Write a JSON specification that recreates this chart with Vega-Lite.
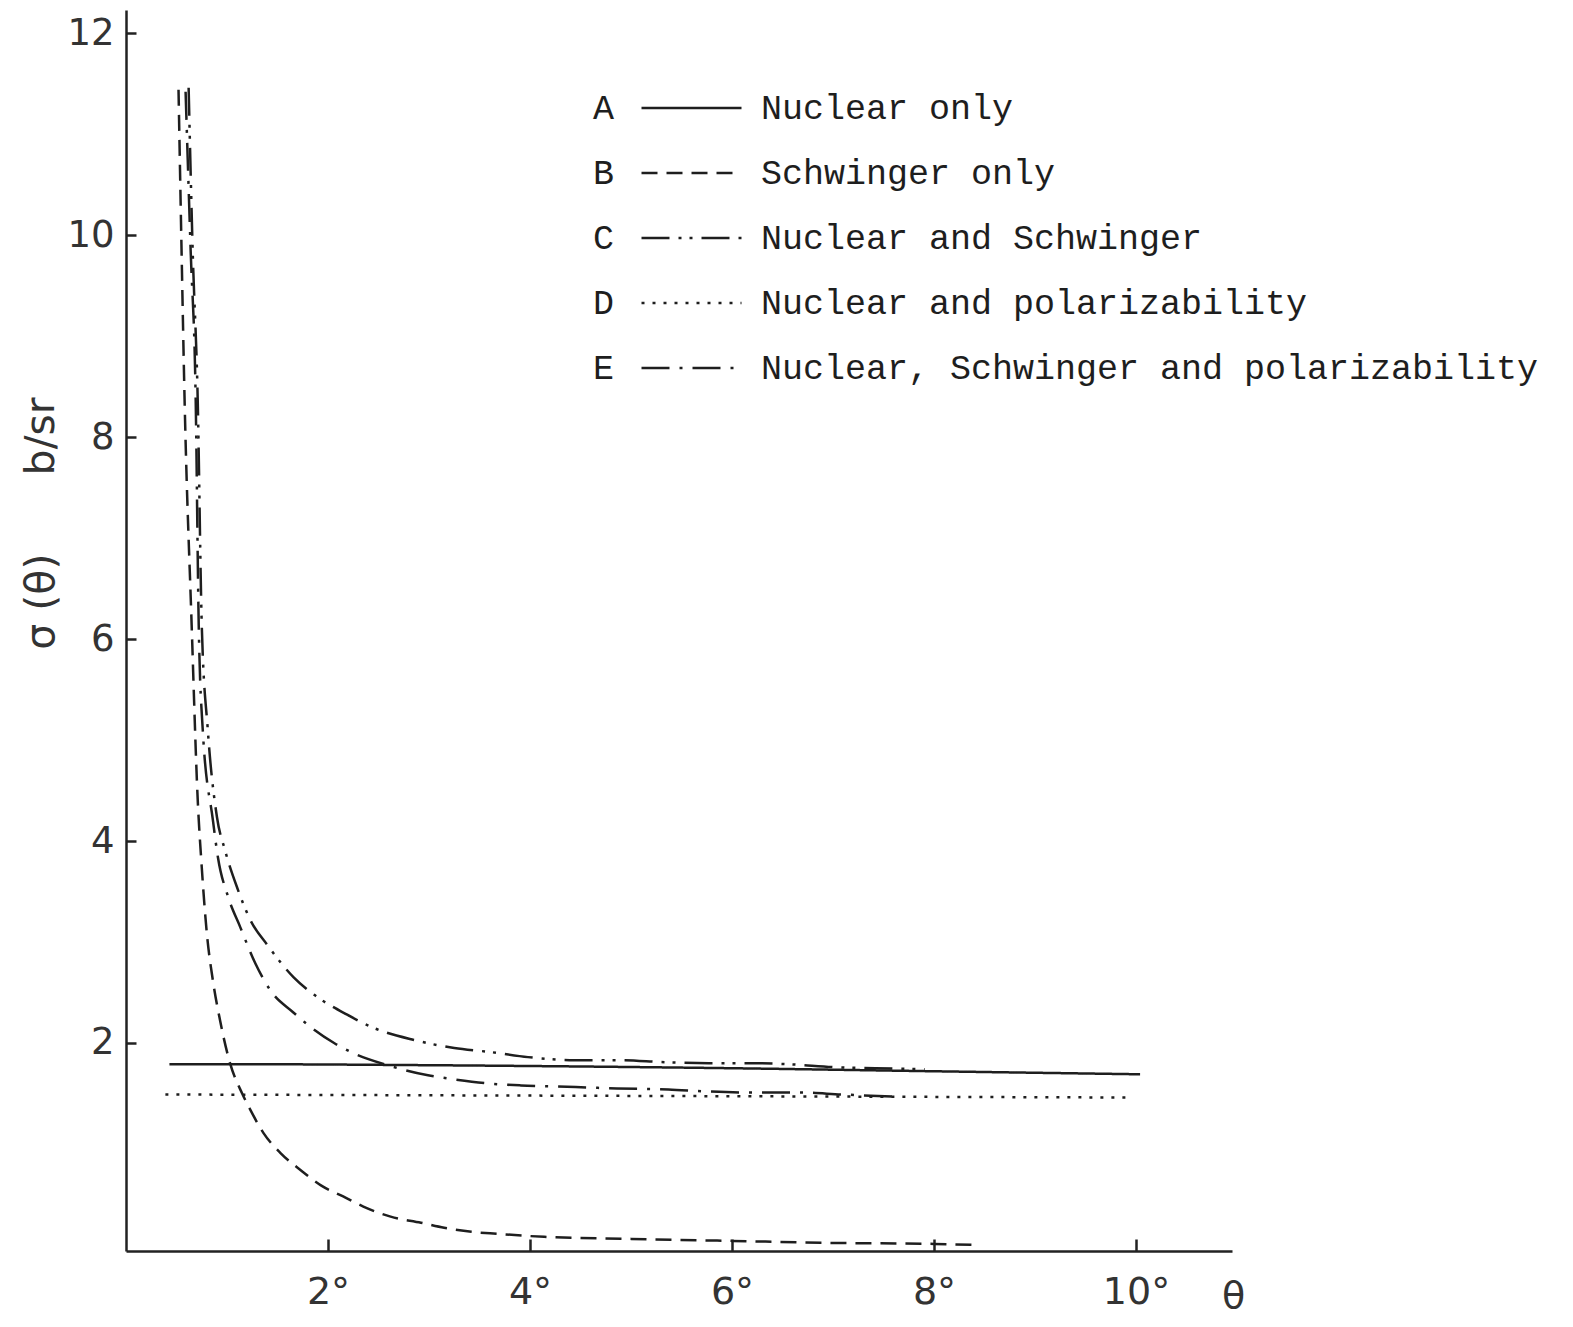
{
  "$schema": "https://vega.github.io/schema/vega-lite/v6.json",
  "width": 1106,
  "height": 1241,
  "autosize": {"type": "none"},
  "padding": {"left": 126, "top": 10, "right": 341, "bottom": 76},
  "background": "white",
  "config": {"view": {"stroke": null}, "line": {"color": "#1e1e1e"}},
  "datasets": {
    "names": [
      {"letter": "A", "name": "Nuclear only"},
      {"letter": "B", "name": "Schwinger only"},
      {"letter": "C", "name": "Nuclear and Schwinger"},
      {"letter": "D", "name": "Nuclear and polarizability"},
      {"letter": "E", "name": "Nuclear, Schwinger and polarizability"}
    ],
    "curves": [
      {"letter": "A", "t": 0.43, "v": 1.79},
      {"letter": "A", "t": 1.05, "v": 1.79},
      {"letter": "A", "t": 3.0, "v": 1.78},
      {"letter": "A", "t": 6.0, "v": 1.75},
      {"letter": "A", "t": 8.0, "v": 1.72},
      {"letter": "A", "t": 10.04, "v": 1.69},
      {"letter": "D", "t": 0.39, "v": 1.49},
      {"letter": "D", "t": 3.7, "v": 1.48},
      {"letter": "D", "t": 9.95, "v": 1.46},
      {"letter": "B", "t": 0.52, "v": 11.44},
      {"letter": "B", "t": 0.55, "v": 9.85},
      {"letter": "B", "t": 0.58, "v": 8.37},
      {"letter": "B", "t": 0.65, "v": 6.14},
      {"letter": "B", "t": 0.71, "v": 4.41},
      {"letter": "B", "t": 0.75, "v": 3.74},
      {"letter": "B", "t": 0.8, "v": 3.09},
      {"letter": "B", "t": 0.86, "v": 2.62},
      {"letter": "B", "t": 0.93, "v": 2.23},
      {"letter": "B", "t": 1.03, "v": 1.8},
      {"letter": "B", "t": 1.15, "v": 1.5},
      {"letter": "B", "t": 1.23, "v": 1.34},
      {"letter": "B", "t": 1.36, "v": 1.11},
      {"letter": "B", "t": 1.53, "v": 0.91},
      {"letter": "B", "t": 1.73, "v": 0.74},
      {"letter": "B", "t": 1.93, "v": 0.59},
      {"letter": "B", "t": 2.15, "v": 0.48},
      {"letter": "B", "t": 2.35, "v": 0.38},
      {"letter": "B", "t": 2.62, "v": 0.28},
      {"letter": "B", "t": 2.92, "v": 0.22},
      {"letter": "B", "t": 3.15, "v": 0.17},
      {"letter": "B", "t": 3.42, "v": 0.13},
      {"letter": "B", "t": 3.68, "v": 0.11},
      {"letter": "B", "t": 4.14, "v": 0.08},
      {"letter": "B", "t": 5.0, "v": 0.06},
      {"letter": "B", "t": 6.0, "v": 0.04},
      {"letter": "B", "t": 7.0, "v": 0.02},
      {"letter": "B", "t": 8.0, "v": 0.01},
      {"letter": "B", "t": 8.4, "v": 0.0},
      {"letter": "C", "t": 0.62, "v": 11.46},
      {"letter": "C", "t": 0.66, "v": 9.85},
      {"letter": "C", "t": 0.71, "v": 8.37},
      {"letter": "C", "t": 0.75, "v": 6.14},
      {"letter": "C", "t": 0.81, "v": 5.1},
      {"letter": "C", "t": 0.9, "v": 4.24},
      {"letter": "C", "t": 0.98, "v": 3.91},
      {"letter": "C", "t": 1.1, "v": 3.54},
      {"letter": "C", "t": 1.23, "v": 3.22},
      {"letter": "C", "t": 1.4, "v": 2.97},
      {"letter": "C", "t": 1.66, "v": 2.65},
      {"letter": "C", "t": 1.86, "v": 2.48},
      {"letter": "C", "t": 2.19, "v": 2.28},
      {"letter": "C", "t": 2.45, "v": 2.15},
      {"letter": "C", "t": 2.85, "v": 2.03},
      {"letter": "C", "t": 3.25, "v": 1.95},
      {"letter": "C", "t": 3.61, "v": 1.91},
      {"letter": "C", "t": 3.98, "v": 1.86},
      {"letter": "C", "t": 4.44, "v": 1.83},
      {"letter": "C", "t": 4.88, "v": 1.83},
      {"letter": "C", "t": 5.33, "v": 1.81},
      {"letter": "C", "t": 5.77, "v": 1.8},
      {"letter": "C", "t": 6.17, "v": 1.8},
      {"letter": "C", "t": 6.56, "v": 1.79},
      {"letter": "C", "t": 7.02, "v": 1.76},
      {"letter": "C", "t": 7.42, "v": 1.75},
      {"letter": "C", "t": 7.91, "v": 1.74},
      {"letter": "E", "t": 0.59, "v": 11.42},
      {"letter": "E", "t": 0.64, "v": 9.85},
      {"letter": "E", "t": 0.69, "v": 8.37},
      {"letter": "E", "t": 0.72, "v": 6.14},
      {"letter": "E", "t": 0.76, "v": 5.1},
      {"letter": "E", "t": 0.86, "v": 4.21},
      {"letter": "E", "t": 0.91, "v": 3.84},
      {"letter": "E", "t": 1.01, "v": 3.45},
      {"letter": "E", "t": 1.13, "v": 3.15},
      {"letter": "E", "t": 1.28, "v": 2.79},
      {"letter": "E", "t": 1.43, "v": 2.52},
      {"letter": "E", "t": 1.66, "v": 2.3},
      {"letter": "E", "t": 1.8, "v": 2.18},
      {"letter": "E", "t": 2.06, "v": 2.0},
      {"letter": "E", "t": 2.25, "v": 1.9},
      {"letter": "E", "t": 2.59, "v": 1.78},
      {"letter": "E", "t": 2.99, "v": 1.68},
      {"letter": "E", "t": 3.25, "v": 1.64},
      {"letter": "E", "t": 3.58, "v": 1.6},
      {"letter": "E", "t": 3.91, "v": 1.58},
      {"letter": "E", "t": 4.24, "v": 1.57},
      {"letter": "E", "t": 4.86, "v": 1.55},
      {"letter": "E", "t": 5.37, "v": 1.54},
      {"letter": "E", "t": 5.75, "v": 1.52},
      {"letter": "E", "t": 6.17, "v": 1.51},
      {"letter": "E", "t": 6.66, "v": 1.51},
      {"letter": "E", "t": 7.09, "v": 1.49},
      {"letter": "E", "t": 7.59, "v": 1.47}
    ]
  },
  "data": {"name": "curves"},
  "transform": [
    {"lookup": "letter", "from": {"data": {"name": "names"}, "key": "letter", "fields": ["name"]}}
  ],
  "mark": {"type": "line", "interpolate": "monotone", "strokeWidth": 2.5, "strokeCap": "butt", "color": "#1e1e1e"},
  "encoding": {
    "x": {
      "field": "t", "type": "quantitative",
      "scale": {"domain": [0, 10.95], "nice": false, "zero": false},
      "axis": {
        "values": [2, 4, 6, 8, 10],
        "labelExpr": "datum.value + '°'",
        "grid": false,
        "tickSize": -12, "tickWidth": 2.5, "tickColor": "#222",
        "domainColor": "#222", "domainWidth": 2.5,
        "labelFont": "DejaVu Sans", "labelFontSize": 38, "labelColor": "#333",
        "labelPadding": 34, "labelBaseline": "top", "labelFlush": false, "labelDx": 6,
        "title": "θ", "titleX": 1107, "titleY": 45, "titleAlign": "center", "titleBaseline": "middle",
        "titleFont": "DejaVu Sans", "titleFontSize": 38, "titleFontWeight": "normal", "titleColor": "#333"
      }
    },
    "y": {
      "field": "v", "type": "quantitative",
      "scale": {"domain": [-0.06, 12.23], "nice": false, "zero": false},
      "axis": {
        "values": [2, 4, 6, 8, 10, 12],
        "grid": false,
        "tickSize": -10, "tickWidth": 2.5, "tickColor": "#222",
        "domainColor": "#222", "domainWidth": 2.5,
        "labelFont": "DejaVu Sans", "labelFontSize": 37, "labelColor": "#333",
        "labelPadding": 22, "labelBaseline": "middle", "labelFlush": false,
        "title": "σ (θ)\u00a0\u00a0\u00a0\u00a0\u00a0\u00a0b/sr", "titleAngle": -90, "titleX": -85, "titleY": 513,
        "titleAlign": "center", "titleBaseline": "middle",
        "titleFont": "DejaVu Sans", "titleFontSize": 41, "titleFontWeight": "normal", "titleColor": "#333"
      }
    },
    "color": {
      "field": "letter", "type": "nominal",
      "scale": {"domain": ["A", "B", "C", "D", "E"], "range": ["#1e1e1e", "#1e1e1e", "#1e1e1e", "#1e1e1e", "#1e1e1e"]},
      "legend": {
        "title": null, "orient": "none", "legendX": 432, "legendY": 83,
        "symbolOpacity": 0, "symbolSize": 1, "symbolStrokeWidth": 0,
        "clipHeight": 30, "rowPadding": 30, "padding": 0,
        "labelFont": "Liberation Mono", "labelFontSize": 35, "labelColor": "#1e1e1e", "labelOffset": 0
      }
    },
    "strokeDash": {
      "field": "name", "type": "nominal",
      "scale": {
        "domain": ["Nuclear only", "Schwinger only", "Nuclear and Schwinger", "Nuclear and polarizability", "Nuclear, Schwinger and polarizability"],
        "range": [[1, 0], [16, 9], [28, 9, 3, 8, 3, 9], [3, 8], [28, 10, 3, 10]]
      },
      "legend": {
        "title": null, "orient": "none", "legendX": 514, "legendY": 83,
        "symbolType": "stroke", "symbolSize": 10000, "symbolStrokeWidth": 2.5, "symbolStrokeColor": "#1e1e1e",
        "clipHeight": 30, "rowPadding": 30, "padding": 0,
        "labelFont": "Liberation Mono", "labelFontSize": 35, "labelColor": "#1e1e1e", "labelOffset": 18, "labelLimit": 2000
      }
    }
  }
}
